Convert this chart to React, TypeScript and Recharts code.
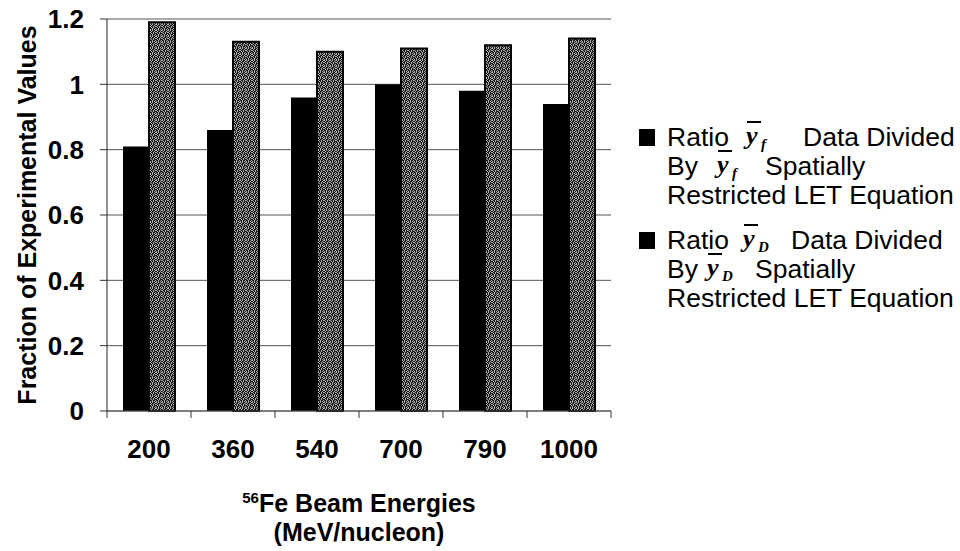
import { BarChart, Bar, XAxis, YAxis, CartesianGrid } from 'recharts'

// 56Fe beam energies (MeV/nucleon) and the two measured/model ratios
const energies = ['200', '360', '540', '700', '790', '1000']
const ratioYf = [0.81, 0.86, 0.96, 1.0, 0.98, 0.94]
const ratioYd = [1.19, 1.13, 1.1, 1.11, 1.12, 1.14]
const yTicks = [0, 0.2, 0.4, 0.6, 0.8, 1, 1.2]

const data = energies.map((energy, i) => ({ energy, yf: ratioYf[i], yd: ratioYd[i] }))

const W = 960
const H = 551
const MARGIN = { top: 19, right: 349, bottom: 80, left: 47 }
const Y_AXIS_W = 60
const X_AXIS_H = 60
const PLOT_W = W - MARGIN.left - Y_AXIS_W - MARGIN.right

const SANS = '"Liberation Sans", Arial, Helvetica, sans-serif'
const SERIF = '"Liberation Serif", "Times New Roman", serif'
const X_TICK_SIZE = 6
const X_TICK_MARGIN = 22

// stipple used for the grey bars
const STIPPLE = ['x.x..x', '.x..x.', 'x..x.x', '.x.x..', '..x..x', 'x.x.x.']

function EnergyTick(props: any) {
  const { x, y, payload, index, visibleTicksCount } = props
  const half = payload?.offset ?? PLOT_W / energies.length / 2
  const axisY = y - X_TICK_SIZE - X_TICK_MARGIN
  return (
    <g>
      <line x1={x - half} x2={x - half} y1={axisY} y2={axisY + 7} stroke="#333" />
      {index === visibleTicksCount - 1 && (
        <line x1={x + half} x2={x + half} y1={axisY} y2={axisY + 7} stroke="#333" />
      )}
      <text x={x} y={y} dy="0.72em" textAnchor="middle" fill="#000"
        fontFamily={SANS} fontSize={26} fontWeight={700}>
        {payload.value}
      </text>
    </g>
  )
}

// italic y with an overbar and a subscript, as in the legend text
function YBar({ x, y, sub }: { x: number; y: number; sub: string }) {
  return (
    <g>
      <line x1={x + 1} x2={x + 15} y1={y - 24} y2={y - 24} stroke="#000" strokeWidth={2} />
      <text x={x} y={y - 2} fontFamily={SERIF} fontStyle="italic" fontWeight={700} fontSize={26}>y</text>
      <text x={x + 15} y={y + 3} fontFamily={SERIF} fontStyle="italic" fontWeight={700} fontSize={15}>{sub}</text>
    </g>
  )
}

function LegendEntry({ top, sub, yb1, data1, yb2, sp2 }: {
  top: number; sub: string; yb1: number; data1: number; yb2: number; sp2: number
}) {
  const lh = 29
  return (
    <g fontFamily={SANS} fontSize={26.5} fill="#000">
      <rect x={639} y={top - 17} width={16} height={17} fill="#000" />
      <text x={667} y={top}>Ratio</text>
      <YBar x={yb1} y={top} sub={sub} />
      <text x={data1} y={top}>Data Divided</text>
      <text x={667} y={top + lh}>By</text>
      <YBar x={yb2} y={top + lh} sub={sub} />
      <text x={sp2} y={top + lh}>Spatially</text>
      <text x={667} y={top + lh * 2}>Restricted LET Equation</text>
    </g>
  )
}

export default function App() {
  return (
    <div style={{ position: 'absolute', left: 0, top: 0, width: W, height: H, background: '#fff' }}>
      <BarChart width={W} height={H} data={data} margin={MARGIN} barGap={0} barSize={26}>
        <defs>
          <pattern id="stipple" width={6} height={6} patternUnits="userSpaceOnUse">
            <rect width={6} height={6} fill="#1c1c1c" />
            {STIPPLE.flatMap((row, r) =>
              row.split('').map((c, k) =>
                c === 'x' ? <rect key={`${r}-${k}`} x={k} y={r} width={1} height={1} fill="#ababab" /> : null
              )
            )}
          </pattern>
        </defs>
        <CartesianGrid vertical={false} stroke="#555" strokeWidth={1} />
        <XAxis
          dataKey="energy"
          height={X_AXIS_H}
          axisLine={{ stroke: '#555' }}
          tickLine={{ stroke: 'none' }}
          tickSize={X_TICK_SIZE}
          tickMargin={X_TICK_MARGIN}
          tick={<EnergyTick />}
          interval={0}
        />
        <YAxis
          width={Y_AXIS_W}
          domain={[0, 1.2]}
          ticks={yTicks}
          interval={0}
          axisLine={{ stroke: '#222' }}
          tickLine={{ stroke: '#333' }}
          tickSize={7}
          tickMargin={16}
          tickFormatter={(v) => String(v)}
          tick={{ fill: '#000', fontSize: 26, fontWeight: 700, fontFamily: SANS }}
        />
        <Bar dataKey="yf" fill="#000" isAnimationActive={false} />
        <Bar dataKey="yd" fill="url(#stipple)" stroke="#000" strokeWidth={2} isAnimationActive={false} />
      </BarChart>

      <svg width={W} height={H} style={{ position: 'absolute', left: 0, top: 0, pointerEvents: 'none' }}>
        <text x={27} y={215} transform="rotate(-90 27 215)" textAnchor="middle" dominantBaseline="central"
          fontFamily={SANS} fontSize={25} fontWeight={700}>
          Fraction of Experimental Values
        </text>
        <text x={359} y={512} textAnchor="middle" fontFamily={SANS} fontSize={25} fontWeight={700}>
          <tspan fontSize={15} dy={-9}>56</tspan>
          <tspan dy={9}>Fe Beam Energies</tspan>
        </text>
        <text x={359} y={541} textAnchor="middle" fontFamily={SANS} fontSize={25} fontWeight={700}>
          (MeV/nucleon)
        </text>

        <LegendEntry top={146} sub="f" yb1={746} data1={803} yb2={717} sp2={765} />
        <LegendEntry top={249} sub="D" yb1={743} data1={791} yb2={707} sp2={755} />
      </svg>
    </div>
  )
}
